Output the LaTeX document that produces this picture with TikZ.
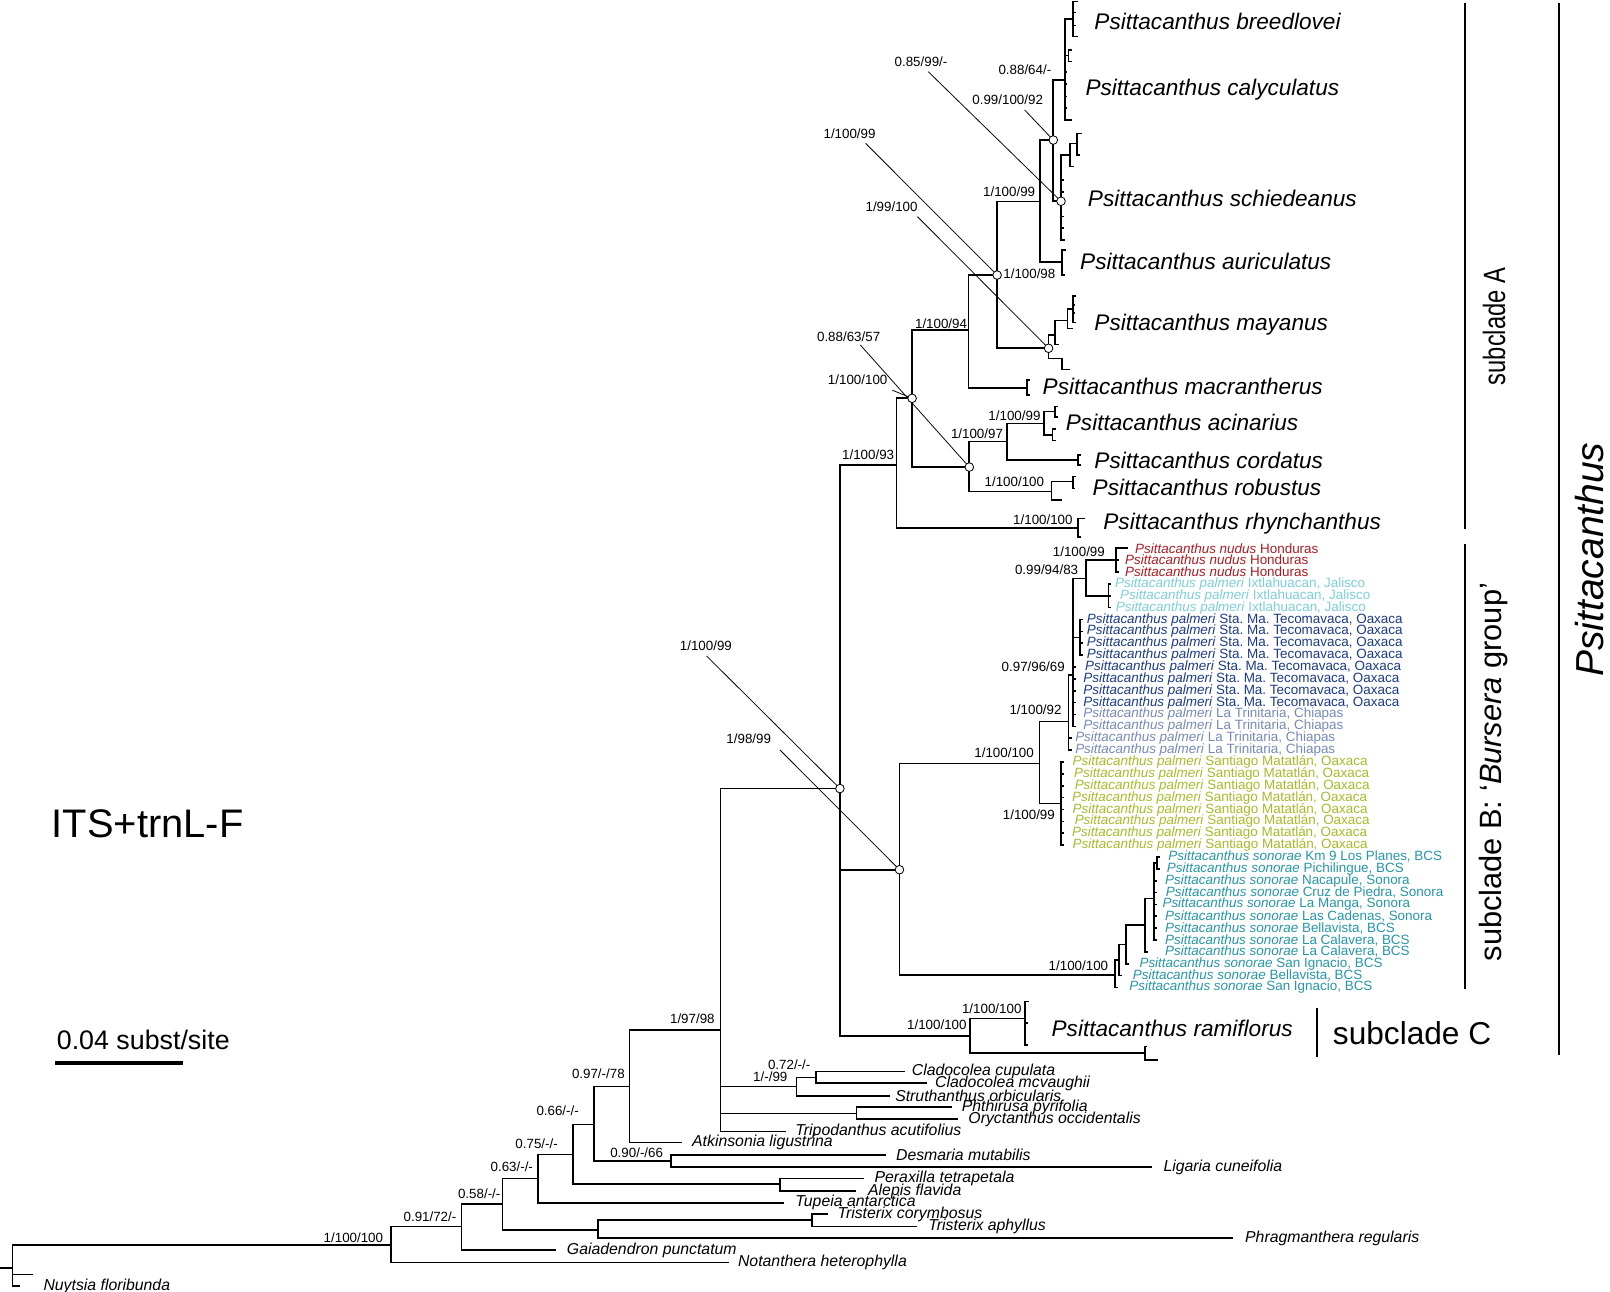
\documentclass[tikz,border=0pt]{standalone}
\usepackage{fontspec}
\setmainfont{Liberation Sans}
\usetikzlibrary{positioning}

\definecolor{nudred}{RGB}{170,28,36}
\definecolor{ixtcyan}{RGB}{125,205,218}
\definecolor{tecoblue}{RGB}{28,58,132}
\definecolor{tringray}{RGB}{118,138,180}
\definecolor{santolive}{RGB}{168,186,42}
\definecolor{sonteal}{RGB}{38,150,166}

\tikzset{
  br/.style={line width=1.6pt},
  ptr/.style={line width=0.75pt},
  ptcirc/.style={circle,draw,fill=white,line width=0.8pt,inner sep=0pt,minimum size=8.4pt},
  sup/.style={font=\fontsize{13}{14}\selectfont,inner sep=0pt,anchor=east},
  og/.style={font=\fontsize{15.4}{17}\selectfont\itshape,inner sep=0pt,anchor=west},
  big/.style={font=\fontsize{22}{24}\selectfont\itshape,inner sep=0pt,anchor=west},
  acc/.style={font=\fontsize{13.1}{14}\selectfont,inner sep=0pt,anchor=west},
  bar/.style={line width=2pt},
}
\def\acc[#1](#2:#3)#4#5{\node[acc,text=#1] (acc#2) at (#3,{534+11.56*#2}) {\textit{Psittacanthus #4} #5};}

\begin{document}
\frenchspacing
\begin{tikzpicture}[x=1pt,y=-1pt]
		%%%%% START %%%%%
		\useasboundingbox (0,0) rectangle (1568,1258);
		
		% root and outgroups
		\coordinate (rt) at (12,1235.2);
		\coordinate (nuyA) at (32.5,1241.1);
		\coordinate (nuyB) at (19.5,1252.4);
		\coordinate (n1) at (380.5,1212.5);
		\coordinate (n2) at (449.5,1194.6);
		\coordinate (n3) at (489.4,1172.7);
		\coordinate (n4) at (524,1147.6);
		\coordinate (n5) at (558.3,1124.2);
		\coordinate (n6) at (578.8,1095);
		\coordinate (n7) at (613.1,1058.3);
		\coordinate (n8) at (701.8,1003.1);
		\coordinate (ncs) at (775.6,1058.3);
		\coordinate (ncc) at (795,1049.3);
		\coordinate (npo) at (834.1,1084.3);
		\coordinate (ndl) at (653.4,1130.7);
		\coordinate (npa) at (759.6,1153.4);
		\coordinate (ntp) at (582.5,1197.9);
		\coordinate (ntri) at (790.5,1188.4);
		
		\coordinate (notan) at (710,1229.4);
		\coordinate (gaia) at (541.6,1217.4);
		\coordinate (tcor) at (806.2,1182.3);
		\coordinate (taph) at (892.8,1194.6);
		\coordinate (phrag) at (1201,1206);
		\coordinate (tupeia) at (763.3,1171.3);
		\coordinate (perax) at (841.6,1147.6);
		\coordinate (alepis) at (834.1,1159.9);
		\coordinate (desm) at (862.8,1124.8);
		\coordinate (ligar) at (1122,1136.8);
		\coordinate (atkin) at (664.5,1112.8);
		\coordinate (tripo) at (765.2,1102.1);
		\coordinate (ccup) at (881.4,1043.7);
		\coordinate (cmcv) at (903,1055);
		\coordinate (struth) at (866.8,1067.4);
		\coordinate (phthir) at (926.8,1078.4);
		\coordinate (oryct) at (933.3,1089.8);
		
		\coordinate (gen) at (818,768);
		
		\draw[br] (0,1235.2) -- (rt);
		\draw[br] (rt) |- (n1) (rt) |- (nuyA) (rt) |- (nuyB);
		\draw[br] (n1) |- (n2) (n1) |- (notan);
		\draw[br] (n2) |- (n3) (n2) |- (gaia);
		\draw[br] (n3) |- (n4) (n3) |- (ntp);
		\draw[br] (ntp) |- (ntri) (ntp) |- (phrag);
		\draw[br] (ntri) |- (tcor) (ntri) |- (taph);
		\draw[br] (n4) |- (n5) (n4) |- (tupeia);
		\draw[br] (n5) |- (n6) (n5) |- (npa);
		\draw[br] (npa) |- (perax) (npa) |- (alepis);
		\draw[br] (n6) |- (n7) (n6) |- (ndl);
		\draw[br] (ndl) |- (desm) (ndl) |- (ligar);
		\draw[br] (n7) |- (n8) (n7) |- (atkin);
		\draw[br] (n8) |- (gen) (n8) |- (ncs) (n8) |- (npo) (n8) |- (tripo);
		\draw[br] (ncs) |- (ncc) (ncs) |- (struth);
		\draw[br] (ncc) |- (ccup) (ncc) |- (cmcv);
		\draw[br] (npo) |- (phthir) (npo) |- (oryct);
		
		\node[og,right=22.7pt of nuyB] (lnuy) {Nuytsia floribunda};
		\node[og,right=8.6pt of notan] (lnotan) {Notanthera heterophylla};
		\node[og,right=10.4pt of gaia] (lgaia) {Gaiadendron punctatum};
		\node[og,right=9.3pt of tcor] (ltcor) {Tristerix corymbosus};
		\node[og,right=11.2pt of taph] (ltaph) {Tristerix aphyllus};
		\node[og,right=11.5pt of phrag] (lphrag) {Phragmanthera regularis};
		\node[og,right=11.2pt of tupeia] (ltupeia) {Tupeia antarctica};
		\node[og,right=10pt of perax] (lperax) {Peraxilla tetrapetala};
		\node[og,right=11.2pt of alepis] (lalepis) {Alepis flavida};
		\node[og,right=9.7pt of desm] (ldesm) {Desmaria mutabilis};
		\node[og,right=11pt of ligar] (lligar) {Ligaria cuneifolia};
		\node[og,right=9.4pt of atkin] (latkin) {Atkinsonia ligustrina};
		\node[og,right=9.3pt of tripo] (ltripo) {Tripodanthus acutifolius};
		\node[og,right=6.5pt of ccup] (lccup) {Cladocolea cupulata};
		\node[og,right=7.6pt of cmcv] (lcmcv) {Cladocolea mcvaughii};
		\node[og,right=4.9pt of struth] (lstruth) {Struthanthus orbicularis};
		\node[og,right=9.8pt of phthir] (lphthir) {Phthirusa pyrifolia};
		\node[og,right=9.7pt of oryct] (loryct) {Oryctanthus occidentalis};
		
		\node[sup] (vn1) at (373.3,1205) {1/100/100};
		\node[sup] (vn2) at (444.6,1184.9) {0.91/72/-};
		\node[sup] (vn3) at (487.5,1162.2) {0.58/-/-};
		\node[sup] (vn4) at (519.2,1136.2) {0.63/-/-};
		\node[sup] (vn5) at (543.4,1113.5) {0.75/-/-};
		\node[sup] (vn6) at (563.9,1082) {0.66/-/-};
		\node[sup] (vn7) at (608.6,1045.3) {0.97/-/78};
		\node[sup] (vn8) at (696.2,991.7) {1/97/98};
		\node[sup] (vndl) at (645.9,1122.6) {0.90/-/66};
		\node[sup] (vncs) at (767,1048.5) {1/-/99};
		\node[sup] (vncc) at (789.4,1037.2) {0.72/-/-};
		
		% Psittacanthus
		\coordinate (a0) at (873,453);
		\coordinate (sb) at (876,847);
		\coordinate (sc) at (944.7,1008.8);
		\draw[br] (gen) |- (a0) (gen) |- (sb) (gen) |- (sc);
		
		% subclade C
		\coordinate (rami) at (998.2,991.8);
		\coordinate (rlow) at (1115,1025.8);
		\draw[br] (sc) |- (rami) (sc) |- (rlow);
		\draw[br] (rami) |- (1002,975.5) (rami) |- (1001,996.5) (rami) |- (1001,1017.7);
		\draw[br] (rlow) |- (1117,1019.3) (rlow) |- (1127.8,1032.3);
		\node[sup] (vsc) at (941.5,998.2) {1/100/100};
		\node[sup] (vrami) at (995,982) {1/100/100};
		\node[big] (lrami) at (1024,1001.5) {Psittacanthus ramiflorus};
		
		% subclade A
		\coordinate (a1) at (888.3,387.9);
		\coordinate (rhy) at (1050,514.5);
		\coordinate (a2) at (943.3,321.4);
		\coordinate (ac0) at (944,454.9);
		\coordinate (a3) at (971.1,267.9);
		\coordinate (macr) at (1000,378);
		\coordinate (pn) at (1012.9,196.4);
		\coordinate (mn) at (1021.2,339.2);
		\coordinate (qn) at (1025.8,136.4);
		\coordinate (auri) at (1034,254.9);
		\coordinate (rn) at (1037.2,77.9);
		\coordinate (sn) at (1033.3,196);
		\draw[br] (a0) |- (a1) (a0) |- (rhy);
		\draw[br] (rhy) |- (1057,504.8) (rhy) |- (1053,522.7);
		\draw[br] (a1) |- (a2) (a1) |- (ac0);
		\draw[br] (a2) |- (a3) (a2) |- (macr);
		\draw[br] (macr) |- (1003,370) (macr) |- (1003,384.7);
		\draw[br] (a3) |- (pn) (a3) |- (mn);
		\draw[br] (pn) |- (qn) (pn) |- (auri);
		\draw[br] (auri) |- (1038,243.5) (auri) |- (1037,267.9);
		\draw[br] (qn) |- (rn) (qn) |- (sn);
		
		\coordinate (bre) at (1045.3,18.8);
		\coordinate (cal) at (1040.5,54);
		\draw[br] (rn) |- (bre) (rn) |- (cal) (rn) |- (1039.5,70) (rn) |- (1039.5,82) (rn) |- (1039.5,94) (rn) |- (1039.5,105) (rn) |- (1044,116.9);
		\draw[br] (bre) |- (1049.5,1.6) (bre) |- (1048,12) (bre) |- (1048,25) (bre) |- (1049.5,35.7);
		\draw[br] (cal) |- (1044,48.7) (cal) |- (1044,60);
		
		\coordinate (s1n) at (1042.1,151);
		\coordinate (s2n) at (1048.6,139.6);
		\draw[br] (sn) |- (s1n) (sn) |- (1036,175) (sn) |- (1036,186.7) (sn) |- (1036,211) (sn) |- (1036,222) (sn) |- (1037,233.8);
		\draw[br] (s1n) |- (s2n) (s1n) |- (1046,162.3);
		\draw[br] (s2n) |- (1053.4,129.9) (s2n) |- (1052,151);
		
		\coordinate (m1) at (1027.5,326.3);
		\coordinate (m2) at (1039.6,312);
		\coordinate (m3) at (1044.8,301);
		\coordinate (m4) at (1034.4,349);
		\draw[br] (mn) |- (m1) (mn) |- (m4);
		\draw[br] (m1) |- (m2) (m1) |- (1031,335.4);
		\draw[br] (m2) |- (m3) (m2) |- (1045,320);
		\draw[br] (m3) |- (1048,288) (m3) |- (1047,297) (m3) |- (1047,305) (m3) |- (1048,314);
		\draw[br] (m4) |- (1042,360);
		
		\coordinate (ac1) at (980.5,430.1);
		\coordinate (rob) at (1024,478.8);
		\coordinate (acin) at (1017,412.3);
		\coordinate (cord) at (1050,447.9);
		\coordinate (acA) at (1027.4,400.9);
		\coordinate (acB) at (1025,423.6);
		\coordinate (robA) at (1044.8,469);
		\draw[br] (ac0) |- (ac1) (ac0) |- (rob);
		\draw[br] (ac1) |- (acin) (ac1) |- (cord);
		\draw[br] (acin) |- (acA) (acin) |- (acB);
		\draw[br] (acA) |- (1030,396) (acA) |- (1030,406);
		\draw[br] (acB) |- (1028,418) (acB) |- (1028,429);
		\draw[br] (cord) |- (1053,443) (cord) |- (1053,452.6);
		\draw[br] (rob) |- (robA) (rob) |- (1034.4,487);
		\draw[br] (robA) |- (1048,464) (robA) |- (1047,475.7);
		
		\node[big] (lbre) at (1065.7,21.1) {Psittacanthus breedlovei};
		\node[big] (lcal) at (1057,87.7) {Psittacanthus calyculatus};
		\node[big] (lsch) at (1059.4,193.2) {Psittacanthus schiedeanus};
		\node[big] (laur) at (1051.8,254.9) {Psittacanthus auriculatus};
		\node[big] (lmay) at (1065.7,316.5) {Psittacanthus mayanus};
		\node[big] (lmac) at (1015.3,376.6) {Psittacanthus macrantherus};
		\node[big] (laci) at (1037.9,411.6) {Psittacanthus acinarius};
		\node[big] (lcor) at (1065.7,448) {Psittacanthus cordatus};
		\node[big] (lrob) at (1064,474.6) {Psittacanthus robustus};
		\node[big] (lrhy) at (1074.4,509.7) {Psittacanthus rhynchanthus};
		
		\node[sup] (va0) at (871,443.1) {1/100/93};
		\node[sup] (va2) at (942,315) {1/100/94};
		\node[sup] (vrn) at (1024,68.2) {0.88/64/-};
		\node[sup] (vpn) at (1008.3,186.7) {1/100/99};
		\node[sup] (vac1) at (977,422.7) {1/100/97};
		\node[sup] (vacin) at (1013.5,405.1) {1/100/99};
		\node[sup] (vrob) at (1017,469.1) {1/100/100};
		\node[sup] (vrhy) at (1044.8,506.4) {1/100/100};
		\node[sup,anchor=west] (va3) at (977,266.9) {1/100/98};
		
		% subclade B
		\coordinate (b1) at (1012.2,743.4);
		\coordinate (so0) at (1085.9,949.6);
		\coordinate (b2) at (1040.5,702.8);
		\coordinate (bsa) at (1033.3,782.4);
		\coordinate (b3) at (1045,657.4);
		\coordinate (nix) at (1057.7,563.3);
		\coordinate (tea) at (1051.8,620.7);
		\coordinate (nud) at (1086.9,545.6);
		\coordinate (ixt) at (1079.4,580.2);
		\draw[br] (sb) |- (b1) (sb) |- (so0);
		\draw[br] (b1) |- (b2) (b1) |- (bsa);
		\draw[br] (b2) |- (b3) (b2) |- (1044,719) (b2) |- (1044,730.5);
		\draw[br] (b3) |- (nix) (b3) |- (tea) (b3) |- (1048,649.6) (b3) |- (1048,661.2) (b3) |- (1048,672.7) (b3) |- (1048,684.3) (b3) |- (1048,695.8) (b3) |- (1048,707.4);
		\draw[br] (nix) |- (nud) (nix) |- (ixt);
		\draw[br] (nud) |- (1098.9,534) (nud) |- (1090,545.6) (nud) |- (1090,557.1);
		\draw[br] (ixt) |- (1082,568.7) (ixt) |- (1082,580.2) (ixt) |- (1082,591.8);
		\draw[br] (tea) |- (1055,603.4) (tea) |- (1055,615) (tea) |- (1055,626.5) (tea) |- (1055,638.1);
		\draw[br] (bsa) |- (1036,742.1) (bsa) |- (1036,753.6) (bsa) |- (1036,765.2) (bsa) |- (1036,776.8) (bsa) |- (1036,788.3) (bsa) |- (1036,799.9) (bsa) |- (1036,811.4) (bsa) |- (1036,823);
		
		\coordinate (so1) at (1090.1,935);
		\coordinate (so2) at (1096.6,919.8);
		\coordinate (so3) at (1115.1,901);
		\coordinate (so4) at (1123.9,875);
		\coordinate (so5) at (1127,840.4);
		\draw[br] (so0) |- (so1) (so0) |- (1089.2,961.7);
		\draw[br] (so1) |- (so2) (so1) |- (1093,950.2);
		\draw[br] (so2) |- (so3) (so2) |- (1099.5,938.6);
		\draw[br] (so3) |- (so4) (so3) |- (1118,927);
		\draw[br] (so4) |- (so5) (so4) |- (1126.5,857.7) (so4) |- (1126.5,869.3) (so4) |- (1126.5,880.8) (so4) |- (1126.5,892.4) (so4) |- (1126.5,903.9) (so4) |- (1126.5,915.5);
		\draw[br] (so5) |- (1130,834.6) (so5) |- (1130,846.2);
		
		\node[sup] (vb1) at (1007,733) {1/100/100};
		\node[sup] (vb2) at (1034,691.5) {1/100/92};
		\node[sup] (vb3) at (1037.2,649.3) {0.97/96/69};
		\node[sup] (vnix) at (1050.2,555.2) {0.99/94/83};
		\node[sup] (vnud) at (1076.2,537.3) {1/100/99};
		\node[sup] (vbsa) at (1027.5,793.8) {1/100/99};
		\node[sup] (vso0) at (1079.4,940.8) {1/100/100};
		
		\acc[nudred](0:1105.4){nudus}{Honduras}
		\acc[nudred](1:1095.6){nudus}{Honduras}
		\acc[nudred](2:1095.6){nudus}{Honduras}
		\acc[ixtcyan](3:1085.9){palmeri}{Ixtlahuacan, Jalisco}
		\acc[ixtcyan](4:1090.8){palmeri}{Ixtlahuacan, Jalisco}
		\acc[ixtcyan](5:1086.5){palmeri}{Ixtlahuacan, Jalisco}
		\acc[tecoblue](6:1058.3){palmeri}{Sta. Ma. Tecomavaca, Oaxaca}
		\acc[tecoblue](7:1058.3){palmeri}{Sta. Ma. Tecomavaca, Oaxaca}
		\acc[tecoblue](8:1058.3){palmeri}{Sta. Ma. Tecomavaca, Oaxaca}
		\acc[tecoblue](9:1058.3){palmeri}{Sta. Ma. Tecomavaca, Oaxaca}
		\acc[tecoblue](10:1056.7){palmeri}{Sta. Ma. Tecomavaca, Oaxaca}
		\acc[tecoblue](11:1055){palmeri}{Sta. Ma. Tecomavaca, Oaxaca}
		\acc[tecoblue](12:1055){palmeri}{Sta. Ma. Tecomavaca, Oaxaca}
		\acc[tecoblue](13:1055){palmeri}{Sta. Ma. Tecomavaca, Oaxaca}
		\acc[tringray](14:1055){palmeri}{La Trinitaria, Chiapas}
		\acc[tringray](15:1055){palmeri}{La Trinitaria, Chiapas}
		\acc[tringray](16:1047){palmeri}{La Trinitaria, Chiapas}
		\acc[tringray](17:1047){palmeri}{La Trinitaria, Chiapas}
		\acc[santolive](18:1044.5){palmeri}{Santiago Matatlán, Oaxaca}
		\acc[santolive](19:1046){palmeri}{Santiago Matatlán, Oaxaca}
		\acc[santolive](20:1046.5){palmeri}{Santiago Matatlán, Oaxaca}
		\acc[santolive](21:1044){palmeri}{Santiago Matatlán, Oaxaca}
		\acc[santolive](22:1044.5){palmeri}{Santiago Matatlán, Oaxaca}
		\acc[santolive](23:1046.5){palmeri}{Santiago Matatlán, Oaxaca}
		\acc[santolive](24:1044){palmeri}{Santiago Matatlán, Oaxaca}
		\acc[santolive](25:1044.5){palmeri}{Santiago Matatlán, Oaxaca}
		\acc[sonteal](26:1137.8){sonorae}{Km 9 Los Planes, BCS}
		\acc[sonteal](27:1136.2){sonorae}{Pichilingue, BCS}
		\acc[sonteal](28:1134.6){sonorae}{Nacapule, Sonora}
		\acc[sonteal](29:1135.3){sonorae}{Cruz de Piedra, Sonora}
		\acc[sonteal](30:1132){sonorae}{La Manga, Sonora}
		\acc[sonteal](31:1134.6){sonorae}{Las Cadenas, Sonora}
		\acc[sonteal](32:1134.6){sonorae}{Bellavista, BCS}
		\acc[sonteal](33:1134.6){sonorae}{La Calavera, BCS}
		\acc[sonteal](34:1134.6){sonorae}{La Calavera, BCS}
		\acc[sonteal](35:1109.6){sonorae}{San Ignacio, BCS}
		\acc[sonteal](36:1103.1){sonorae}{Bellavista, BCS}
		\acc[sonteal](37:1099.8){sonorae}{San Ignacio, BCS}
		
		% pointers to nodes
		\node[sup,anchor=center] (pgen) at (687.5,629.1) {1/100/99};
		\node[sup,anchor=center] (psb) at (729.2,719.7) {1/98/99};
		\node[sup,anchor=center] (pac0) at (826.5,327.9) {0.88/63/57};
		\node[sup,anchor=center] (pa1) at (835.3,370.1) {1/100/100};
		\node[sup,anchor=center] (pa3) at (827.4,129.9) {1/100/99};
		\node[sup,anchor=center] (pmn) at (868.3,201.3) {1/99/100};
		\node[sup,anchor=center] (psn) at (897,60) {0.85/99/-};
		\node[sup,anchor=center] (pqn) at (981.4,97.4) {0.99/100/92};
		\coordinate (qgen) at (688.2,638.9);
		\coordinate (qsb) at (759.6,730.4);
		\coordinate (qac0) at (837.9,336);
		\coordinate (qa1) at (869,380);
		\coordinate (qa3) at (843,139.6);
		\coordinate (qmn) at (893.5,211);
		\coordinate (qsn) at (904,69.8);
		\coordinate (qqn) at (997.9,107.1);
		\draw[ptr] (qgen) -- (gen);
		\draw[ptr] (qsb) -- (sb);
		\draw[ptr] (qac0) -- (ac0);
		\draw[ptr] (qa1) -- (a1);
		\draw[ptr] (qa3) -- (a3);
		\draw[ptr] (qmn) -- (mn);
		\draw[ptr] (qsn) -- (sn);
		\draw[ptr] (qqn) -- (qn);
		\node[ptcirc] (cgen) at (gen) {};
		\node[ptcirc] (csb) at (sb) {};
		\node[ptcirc] (cac0) at (ac0) {};
		\node[ptcirc] (ca1) at (a1) {};
		\node[ptcirc] (ca3) at (a3) {};
		\node[ptcirc] (cmn) at (mn) {};
		\node[ptcirc] (csn) at (sn) {};
		\node[ptcirc] (cqn) at (qn) {};
		
		% clade bars
		\draw[bar] (1427,3) -- (1427,515);
		\draw[bar] (1427,530) -- (1427,963);
		\draw[bar] (1282.3,982) -- (1282.3,1029);
		\draw[bar] (1518,3) -- (1518,1027);
		\node[font=\fontsize{30}{32}\selectfont,rotate=90,inner sep=0pt] (labA) at (1455,318) {\scalebox{0.77}[1]{subclade A}};
		\node[font=\fontsize{30}{32}\selectfont,rotate=90,inner sep=0pt] (labB) at (1455,752) {subclade B: ‘\textit{Bursera} group’};
		\node[font=\fontsize{30.8}{32}\selectfont,inner sep=0pt,anchor=west] (labC) at (1298,1006.4) {subclade C};
		\node[font=\fontsize{38}{40}\selectfont\itshape,rotate=90,inner sep=0pt] (labP) at (1548,545) {Psittacanthus};
		
		% title and scale
		\node[font=\fontsize{38.8}{40}\selectfont,inner sep=0pt,anchor=west] (title) at (50.3,801.8) {ITS+trnL-F};
		\node[font=\fontsize{26.1}{28}\selectfont,inner sep=0pt,anchor=west] (scale) at (55.2,1012.9) {0.04 subst/site};
		\draw[line width=3.9pt] (53.6,1035) -- (178.5,1035);
		
		%%%%% END %%%%%
	\end{tikzpicture}
\end{document}
